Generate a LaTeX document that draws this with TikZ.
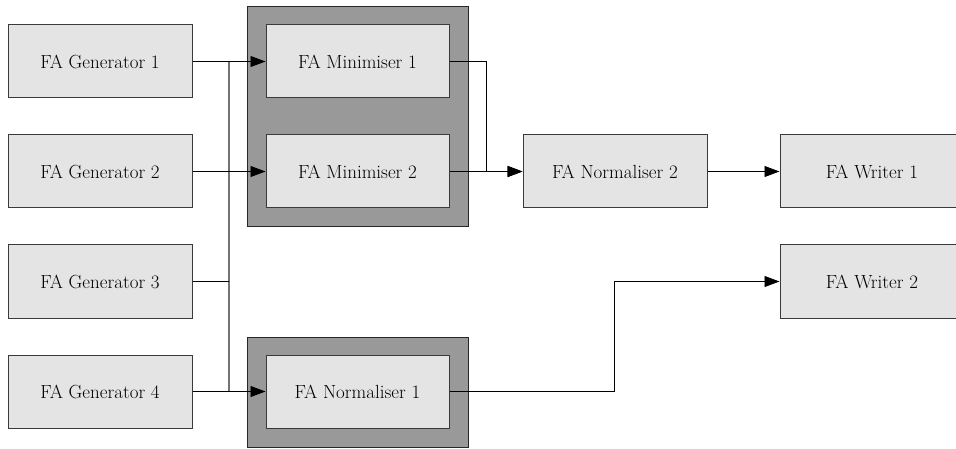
\documentclass[tikz,border=0pt]{standalone}
\usetikzlibrary{arrows.meta}
\definecolor{boxfill}{HTML}{E4E4E4}
\definecolor{groupfill}{HTML}{999999}
\definecolor{edge}{HTML}{3A3A3A}
\begin{document}
\begin{tikzpicture}[x=1pt,y=-1pt,
  stage/.style={draw=edge, line width=1pt, fill=boxfill, minimum width=184pt, minimum height=73pt,
    inner sep=0pt, text=black, font=\fontsize{19}{22}\selectfont},
  inner stage/.style={stage, minimum width=183pt},
  group/.style={draw=black!85, line width=1pt, fill=groupfill},
  link/.style={draw=black, line width=0.9pt},
  flow/.style={link, -{Triangle[length=15pt,width=11pt]}},
  bus/.style={draw=black!55, line width=1.3pt}]
\useasboundingbox (0,0) rectangle (956,449);

% container boxes
\draw[group] (247,7) rectangle (468,227);
\draw[group] (247,337) rectangle (468,447);

% stages
\node[stage] (g1) at (100,61.5) {FA Generator 1};
\node[stage] (g2) at (100,171.5) {FA Generator 2};
\node[stage] (g3) at (100,281.5) {FA Generator 3};
\node[stage] (g4) at (100,391.5) {FA Generator 4};
\node[inner stage] (m1) at (357.5,61.5) {FA Minimiser 1};
\node[inner stage] (m2) at (357.5,171.5) {FA Minimiser 2};
\node[inner stage] (n1) at (357.5,391.5) {FA Normaliser 1};
\node[stage] (n2) at (615,171.5) {FA Normaliser 2};
\node[stage] (w1) at (872,171.5) {FA Writer 1};
\node[stage] (w2) at (872,281.5) {FA Writer 2};

% shared input bus
\coordinate (bt) at (229,61.5);
\coordinate (bb) at (229,391.5);
\draw[bus] (bt) -- (bb);
\draw[link] (g3.east) -- (g3.east -| bt);

% connectors
\draw[flow] (g1.east) -- (m1.west);
\draw[flow] (g2.east) -- (m2.west);
\draw[flow] (g4.east) -- (n1.west);
\draw[flow] (m1.east) -- (486,61.5) |- (n2.west);
\draw[flow] (m2.east) -- (n2.west);
\draw[flow] (n2.east) -- (w1.west);
\draw[flow] (n1.east) -- (614,391.5) |- (w2.west);
\end{tikzpicture}
\end{document}
